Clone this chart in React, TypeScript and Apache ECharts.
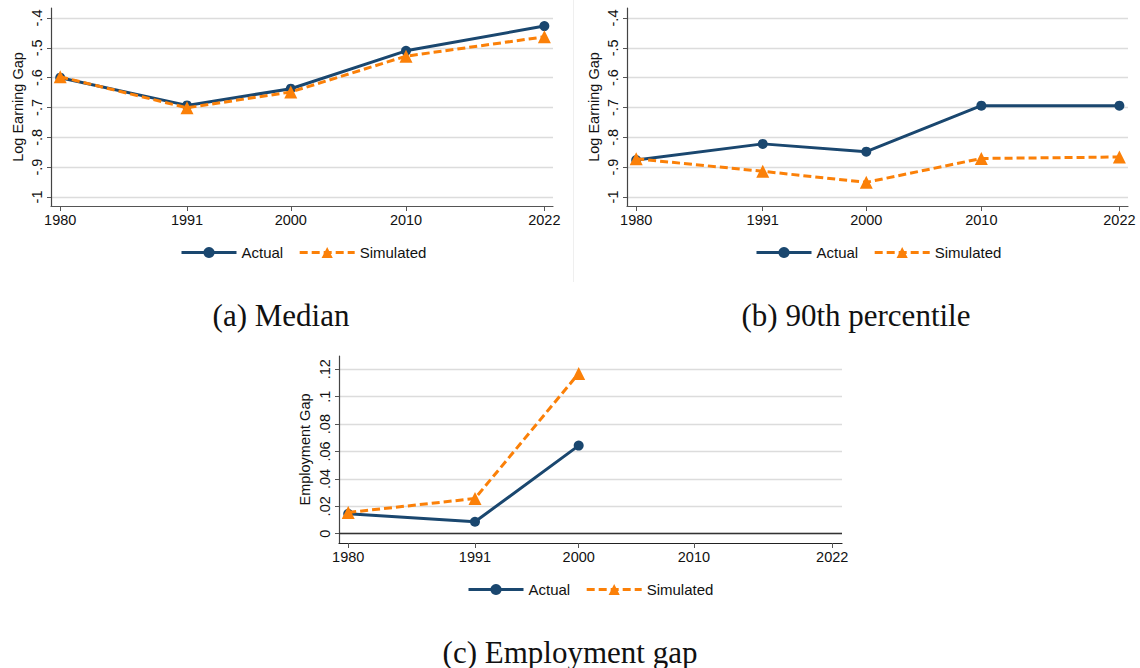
import React, { useEffect, useRef } from "react";
import * as echarts from "echarts";

const YEARS = [1980, 1991, 2000, 2010, 2022];
const MEDIAN_ACTUAL = [-0.6, -0.693, -0.637, -0.51, -0.427];
const MEDIAN_SIM = [-0.597, -0.701, -0.648, -0.528, -0.463];
const P90_ACTUAL = [-0.876, -0.822, -0.848, -0.694, -0.694];
const P90_SIM = [-0.872, -0.914, -0.951, -0.871, -0.866];
const EMP_ACTUAL: (number | null)[] = [0.0146, 0.0087, 0.0643, null, null];
const EMP_SIM: (number | null)[] = [0.0155, 0.0257, 0.117, null, null];
const EARN_TICKS = [-1, -0.9, -0.8, -0.7, -0.6, -0.5, -0.4];
const EMP_TICKS = [0, 0.02, 0.04, 0.06, 0.08, 0.1, 0.12];
const SERIES_NAMES = ["Actual", "Simulated"];
const Y_NAMES = ["Log Earning Gap", "Log Earning Gap", "Employment Gap"];
const CAPTIONS = ["(a) Median", "(b) 90th percentile", "(c) Employment gap"];

const NAVY = "#1a476f";
const ORANGE = "#fb8008";
const FONT = "Liberation Sans";

const fmt = (v: number) => {
  const s = Number(v.toFixed(3)).toString();
  return s.replace(/^(-?)0\./, "$1.");
};

const pairs = (vals: (number | null)[]) => YEARS.map((y, i) => [y, vals[i] === null ? "-" : vals[i]]);

export default function App() {
  const ref = useRef<HTMLDivElement>(null);
  useEffect(() => {
    if (!ref.current) return;
    const chart = echarts.init(ref.current, undefined, { renderer: "svg" });

    const grids = [
      { left: 51, top: 8, width: 502, height: 198 },
      { left: 627, top: 8, width: 501, height: 198 },
      { left: 339, top: 356, width: 503, height: 187 },
    ];

    const xAxis = grids.map((_, i) => ({
      type: "value",
      gridIndex: i,
      min: 1979.2,
      max: i === 2 ? 2022.85 : 2022.75,
      axisLine: { show: true, onZero: false, lineStyle: { color: i === 2 ? "#222" : "#555", width: 1.2 } },
      axisTick: { show: true, customValues: YEARS, length: 5, lineStyle: { color: "#555" } },
      axisLabel: {
        customValues: YEARS,
        fontFamily: FONT,
        fontSize: 14.5,
        color: "#111",
        margin: 6,
        showMinLabel: true,
        showMaxLabel: true,
        formatter: (v: number) => String(Math.round(v)),
      },
      splitLine: { show: false },
    }));

    const yAxis = grids.map((_, i) => {
      const emp = i === 2;
      return {
        type: "value",
        gridIndex: i,
        min: emp ? -0.00678 : -1.0303,
        max: emp ? 0.1297 : -0.3664,
        name: Y_NAMES[i],
        nameLocation: "middle",
        nameGap: emp ? 27 : 26,
        nameTextStyle: { fontFamily: FONT, fontSize: 14.5, color: "#111" },
        axisLine: { show: true, onZero: false, lineStyle: { color: "#444", width: 1.2 } },
        axisTick: { show: true, customValues: emp ? EMP_TICKS : EARN_TICKS, length: 4, lineStyle: { color: "#555" } },
        axisLabel: {
          customValues: emp ? EMP_TICKS : EARN_TICKS,
          rotate: 90,
          fontFamily: FONT,
          fontSize: 14.5,
          color: "#111",
          margin: 7,
          formatter: (v: number) => fmt(v),
        },
        splitLine: { show: true, lineStyle: { color: "#dcdcdc", width: 1.3 } },
      };
    });

    const data = [
      [MEDIAN_ACTUAL, MEDIAN_SIM],
      [P90_ACTUAL, P90_SIM],
      [EMP_ACTUAL, EMP_SIM],
    ];

    const series: any[] = [];
    data.forEach((pair, i) => {
      series.push({
        name: SERIES_NAMES[0],
        type: "line",
        xAxisIndex: i,
        yAxisIndex: i,
        data: pairs(pair[0]),
        symbol: "circle",
        symbolSize: 10,
        lineStyle: { color: NAVY, width: 3 },
        itemStyle: { color: NAVY },
        z: 3,
        markLine:
          i === 2
            ? {
                silent: true,
                symbol: "none",
                label: { show: false },
                lineStyle: { color: "#333", width: 1.3, type: "solid" },
                data: [{ yAxis: 0 }],
              }
            : undefined,
      });
      series.push({
        name: SERIES_NAMES[1],
        type: "line",
        xAxisIndex: i,
        yAxisIndex: i,
        data: pairs(pair[1]),
        symbol: "triangle",
        symbolSize: 13,
        lineStyle: { color: ORANGE, width: 3, type: [8, 4] },
        itemStyle: { color: ORANGE },
        z: 4,
      });
    });

    const legendPos = [
      { left: 180, top: 245 },
      { left: 755, top: 245 },
      { left: 467, top: 582 },
    ];
    const legend = legendPos.map((p) => ({
      ...p,
      padding: 0,
      orient: "horizontal",
      data: SERIES_NAMES,
      itemWidth: 55,
      itemHeight: 14,
      itemGap: 15,
      lineStyle: { width: 3 },
      textStyle: { fontFamily: FONT, fontSize: 15, color: "#111" },
    }));

    const capPos = [
      [281, 315],
      [856, 315],
      [570, 652],
    ];

    chart.setOption({
      animation: false,
      backgroundColor: "#fff",
      grid: grids,
      xAxis,
      yAxis,
      legend,
      series,
      graphic: [
        {
          type: "line",
          shape: { x1: 573.5, y1: 0, x2: 573.5, y2: 282 },
          style: { stroke: "#efefef", lineWidth: 1 },
          silent: true,
        },
        ...CAPTIONS.map((c, i) => ({
          type: "text",
          x: capPos[i][0],
          y: capPos[i][1],
          style: {
            text: c,
            font: '31px "Liberation Serif"',
            fill: "#111",
            textAlign: "center",
            textVerticalAlign: "middle",
          },
          silent: true,
        })),
      ],
    });
    return () => chart.dispose();
  }, []);
  return <div ref={ref} style={{ position: "absolute", left: 0, top: 0, width: 1140, height: 668 }} />;
}
